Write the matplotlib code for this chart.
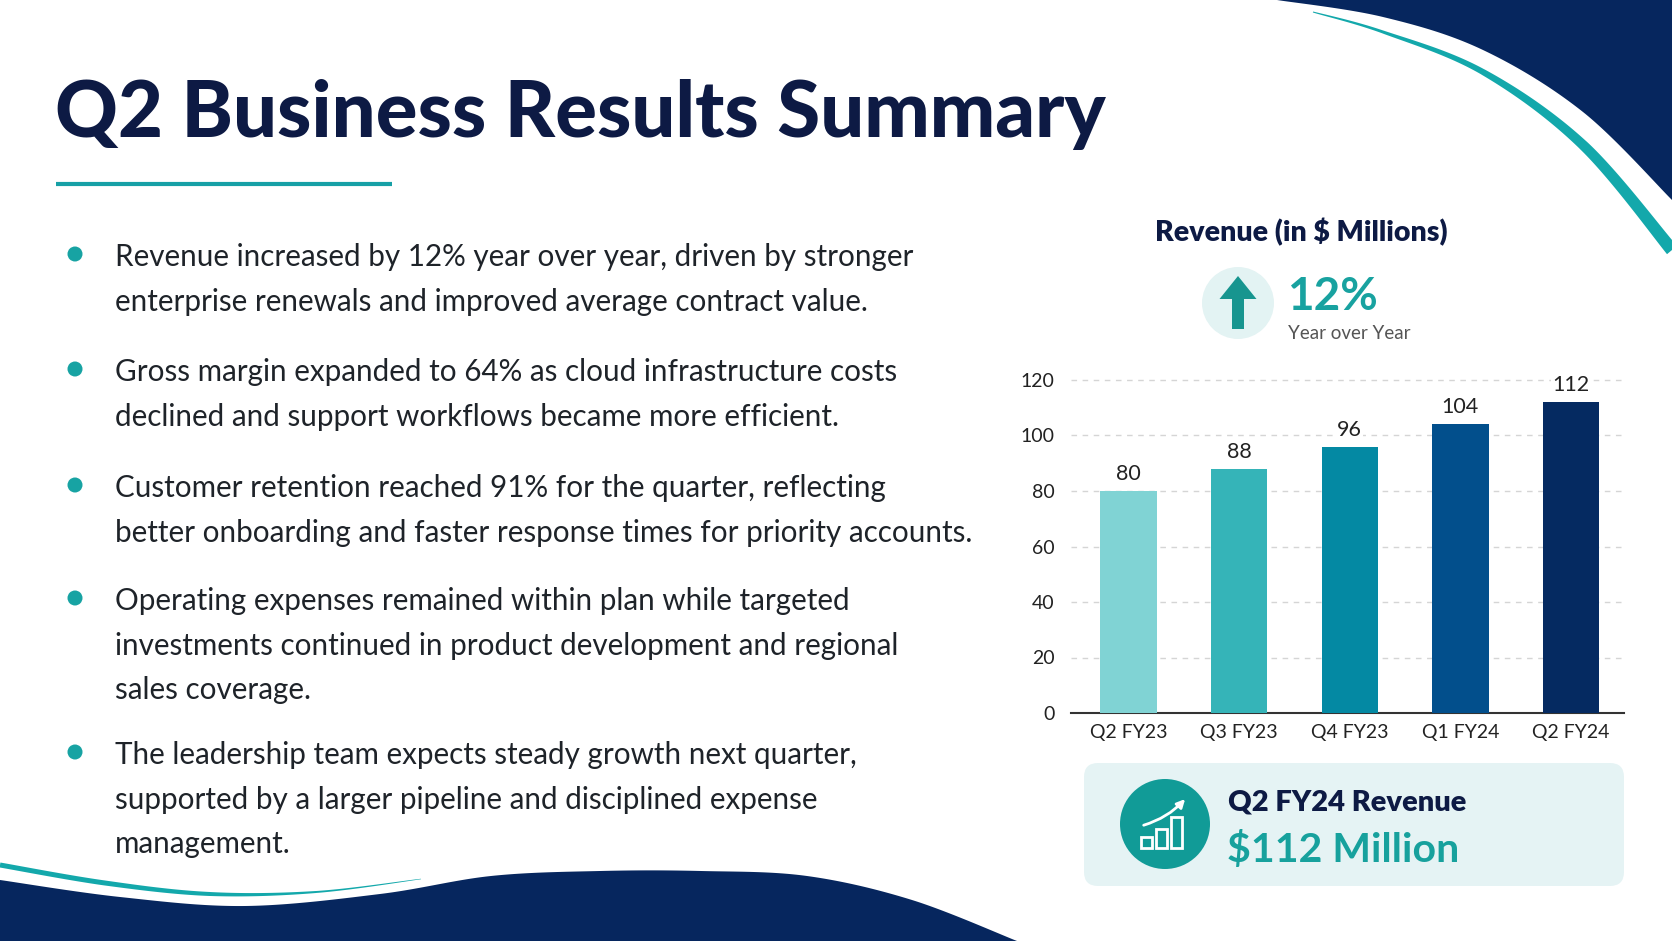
import numpy as np
import matplotlib.pyplot as plt
from matplotlib.patches import Circle, FancyBboxPatch, FancyArrow, Rectangle, Polygon

plt.rcParams['font.family'] = ['Lato', 'DejaVu Sans']

# chart data
quarters = ['Q2 FY23', 'Q3 FY23', 'Q4 FY23', 'Q1 FY24', 'Q2 FY24']
revenue = [80, 88, 96, 104, 112]
bar_colors = ['#80d3d4', '#35b4b8', '#0489a3', '#024f8c', '#052a61']
y_ticks = [0, 20, 40, 60, 80, 100, 120]

title = 'Q2 Business Results Summary'
chart_title = 'Revenue (in $ Millions)'
growth = '12%'
growth_label = 'Year over Year'
card_title = 'Q2 FY24 Revenue'
card_value = '$112 Million'

bullets = [
    ['Revenue increased by 12% year over year, driven by stronger',
     'enterprise renewals and improved average contract value.'],
    ['Gross margin expanded to 64% as cloud infrastructure costs',
     'declined and support workflows became more efficient.'],
    ['Customer retention reached 91% for the quarter, reflecting',
     'better onboarding and faster response times for priority accounts.'],
    ['Operating expenses remained within plan while targeted',
     'investments continued in product development and regional',
     'sales coverage.'],
    ['The leadership team expects steady growth next quarter,',
     'supported by a larger pipeline and disciplined expense',
     'management.'],
]

NAVY = '#06265e'
TEAL = '#17a3a3'
DARK = '#0d1a44'
W, H = 1672, 941


def smooth(points, n=40):
    # Catmull-Rom curve through the given points
    p = np.array(points, float)
    p = np.vstack([p[0], p, p[-1]])
    t = np.linspace(0, 1, n)[:, None]
    segs = []
    for i in range(1, len(p) - 2):
        p0, p1, p2, p3 = p[i - 1], p[i], p[i + 1], p[i + 2]
        segs.append(0.5 * (2 * p1 + (p2 - p0) * t
                           + (2 * p0 - 5 * p1 + 4 * p2 - p3) * t ** 2
                           + (3 * p1 - p0 - 3 * p2 + p3) * t ** 3))
    return np.vstack(segs)


def ribbon(points, widths):
    c = smooth(points)
    w = np.interp(np.linspace(0, 1, len(c)), np.linspace(0, 1, len(widths)), widths)
    d = np.gradient(c, axis=0)
    nrm = np.stack([-d[:, 1], d[:, 0]], axis=1)
    nrm /= np.linalg.norm(nrm, axis=1)[:, None]
    top = c + nrm * w[:, None] / 2
    bot = c - nrm * w[:, None] / 2
    return np.vstack([top, bot[::-1]])


fig = plt.figure(figsize=(W / 100, H / 100), dpi=100)
bg = fig.add_axes([0, 0, 1, 1])
bg.set_xlim(0, W)
bg.set_ylim(H, 0)
bg.axis('off')

# decorative shapes
edge = smooth([(1277, 0), (1383, 17), (1483, 50), (1583, 112), (1672, 200)])
bg.add_patch(Polygon(np.vstack([edge, [(1672, 0)]]), color=NAVY, lw=0))
bg.add_patch(Polygon(ribbon([(1313, 12), (1383, 32), (1483, 72), (1583, 145), (1672, 250)],
                            [1, 3, 6, 10, 13]), color='#13a8ab', lw=0))

edge = smooth([(0, 880), (120, 897), (245, 906), (380, 894), (491, 876), (600, 871),
               (701, 871), (807, 876), (912, 900), (1017, 941)])
bg.add_patch(Polygon(np.vstack([edge, [(0, 941)]]), color=NAVY, lw=0))
bg.add_patch(Polygon(ribbon([(0, 865), (105, 883), (210, 894), (316, 892), (421, 879)],
                            [5, 5, 4, 2, 0.5]), color='#13a8ab', lw=0))

# title
bg.text(55, 137, title, fontsize=56, fontweight='black', color=DARK, va='baseline')
bg.plot([56, 392], [184, 184], color='#17a0a6', lw=3, solid_capstyle='butt')

# bullet points
first_base = [266, 381, 497, 610, 764]
for lines, y0 in zip(bullets, first_base):
    bg.add_patch(Circle((75, y0 - 12), 7.5, color=TEAL, lw=0))
    for k, line in enumerate(lines):
        bg.text(115, y0 + k * 44.7, line, fontsize=21.3, color='#1e2329', va='baseline')

# chart header
bg.text(1301, 232, chart_title, fontsize=20.5, fontweight='heavy', color=DARK,
        ha='center', va='center')
bg.add_patch(Circle((1238, 303), 36, color='#e3f3f3', lw=0))
bg.add_patch(FancyArrow(1238, 329, 0, -53, width=12, head_width=37, head_length=23,
                        length_includes_head=True, color='#17958f', lw=0))
bg.text(1287, 310, growth, fontsize=33, fontweight='bold', color='#18a2a0', va='baseline')
bg.text(1288, 339, growth_label, fontsize=13.5, color='#555555', va='baseline')

# bottom card
card = FancyBboxPatch((1084, 763), 540, 123, boxstyle='round,pad=0,rounding_size=14',
                      fc='#e5f3f4', ec='none')
bg.add_patch(card)
bg.add_patch(Circle((1165, 824), 45, color='#119b97', lw=0))
for x0, top in zip([1141, 1156, 1171], [837, 829, 817]):
    bg.add_patch(Rectangle((x0, top), 11, 848 - top, fill=False, ec='white', lw=2))
bg.annotate('', xy=(1187, 797), xytext=(1141, 826),
            arrowprops=dict(arrowstyle='-|>', color='white', lw=2,
                            connectionstyle='arc3,rad=0.15', mutation_scale=12))
bg.text(1228, 810, card_title, fontsize=21, fontweight='heavy', color=DARK, va='baseline')
bg.text(1227, 862, card_value, fontsize=29.5, fontweight='bold', color='#17a19d', va='baseline')

# bar chart
y0_px, y120_px = 713, 380
ppu = (y0_px - y120_px) / 120
top_val = 125
ax = fig.add_axes([1071 / W, 1 - y0_px / H, (1624 - 1071) / W, top_val * ppu / H])
ax.set_facecolor('none')
x = np.arange(len(quarters))
ax.bar(x, revenue, width=0.51, color=bar_colors, zorder=3)
for xi, v in zip(x, revenue):
    ax.text(xi, v + 4, str(v), ha='center', va='baseline', fontsize=15.5, color='#222222',
            zorder=4, bbox=dict(fc='white', ec='none', pad=1))
ax.set_xlim(-0.52, 4.48)
ax.set_ylim(0, top_val)
ax.set_yticks(y_ticks)
ax.set_xticks(x)
ax.set_xticklabels(quarters)
for s in ['top', 'right', 'left']:
    ax.spines[s].set_visible(False)
ax.spines['bottom'].set_color('#333333')
ax.spines['bottom'].set_linewidth(1.5)
ax.grid(axis='y', color='#d5d5d5', linestyle=(0, (4, 4)), lw=1, zorder=0)
ax.tick_params(length=0, labelsize=14, labelcolor='#222222')
ax.tick_params(axis='y', pad=12)
ax.tick_params(axis='x', pad=8)

fig.savefig('out.png', dpi=100, facecolor='white')
